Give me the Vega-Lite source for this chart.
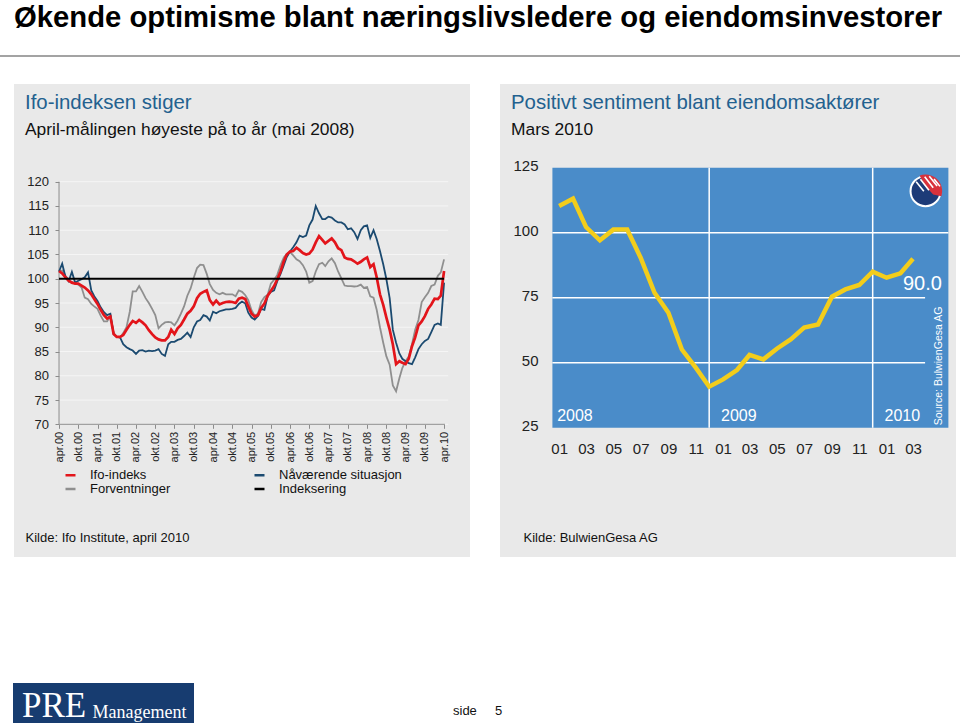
{
  "$schema": "https://vega.github.io/schema/vega-lite/v6.json",
  "padding": {"top": 3, "left": 0, "right": 0, "bottom": 2},
  "background": "white",
  "title": {"text": "Økende optimisme blant næringslivsledere og eiendomsinvestorer", "anchor": "start", "dx": 14, "fontSize": 29.25, "fontWeight": "bold", "font": "Liberation Sans", "color": "#000000", "offset": 22},
  "spacing": 0,
  "bounds": "full",
  "config": {"view": {"stroke": null}, "font": "Liberation Sans", "axis": {"labelOverlap": false}},
  "datasets": {
    "ifo": [
      {"d":"2000-04-01","Ifo-indeks":101.6,"Nåværende situasjon":101.5,"Forventninger":101.5},
      {"d":"2000-05-01","Ifo-indeks":101.1,"Nåværende situasjon":103.1,"Forventninger":101.7},
      {"d":"2000-06-01","Ifo-indeks":100.3,"Nåværende situasjon":100.4,"Forventninger":100.6},
      {"d":"2000-07-01","Ifo-indeks":99.6,"Nåværende situasjon":99.5,"Forventninger":99.8},
      {"d":"2000-08-01","Ifo-indeks":99.2,"Nåværende situasjon":101.4,"Forventninger":99.3},
      {"d":"2000-09-01","Ifo-indeks":99.0,"Nåværende situasjon":99.2,"Forventninger":99.0},
      {"d":"2000-10-01","Ifo-indeks":99.0,"Nåværende situasjon":99.6,"Forventninger":98.8},
      {"d":"2000-11-01","Ifo-indeks":98.6,"Nåværende situasjon":99.9,"Forventninger":98.2},
      {"d":"2000-12-01","Ifo-indeks":98.2,"Nåværende situasjon":100.3,"Forventninger":96.1},
      {"d":"2001-01-01","Ifo-indeks":97.6,"Nåværende situasjon":101.3,"Forventninger":95.8},
      {"d":"2001-02-01","Ifo-indeks":96.8,"Nåværende situasjon":97.6,"Forventninger":94.8},
      {"d":"2001-03-01","Ifo-indeks":95.8,"Nåværende situasjon":96.4,"Forventninger":94.3},
      {"d":"2001-04-01","Ifo-indeks":94.8,"Nåværende situasjon":95.4,"Forventninger":93.8},
      {"d":"2001-05-01","Ifo-indeks":93.6,"Nåværende situasjon":94.1,"Forventninger":92.4},
      {"d":"2001-06-01","Ifo-indeks":92.5,"Nåværende situasjon":93.1,"Forventninger":91.2},
      {"d":"2001-07-01","Ifo-indeks":91.8,"Nåværende situasjon":92.5,"Forventninger":91.2},
      {"d":"2001-08-01","Ifo-indeks":92.2,"Nåværende situasjon":92.8,"Forventninger":92.3},
      {"d":"2001-09-01","Ifo-indeks":88.6,"Nåværende situasjon":88.6,"Forventninger":88.8},
      {"d":"2001-10-01","Ifo-indeks":88.0,"Nåværende situasjon":88.0,"Forventninger":88.0},
      {"d":"2001-11-01","Ifo-indeks":88.0,"Nåværende situasjon":87.9,"Forventninger":87.9},
      {"d":"2001-12-01","Ifo-indeks":88.4,"Nåværende situasjon":86.5,"Forventninger":88.8},
      {"d":"2002-01-01","Ifo-indeks":89.5,"Nåværende situasjon":85.9,"Forventninger":90.0},
      {"d":"2002-02-01","Ifo-indeks":90.5,"Nåværende situasjon":85.5,"Forventninger":93.2},
      {"d":"2002-03-01","Ifo-indeks":91.3,"Nåværende situasjon":85.2,"Forventninger":97.4},
      {"d":"2002-04-01","Ifo-indeks":90.9,"Nåværende situasjon":84.5,"Forventninger":97.4},
      {"d":"2002-05-01","Ifo-indeks":91.5,"Nåværende situasjon":85.2,"Forventninger":98.5},
      {"d":"2002-06-01","Ifo-indeks":91.0,"Nåværende situasjon":85.3,"Forventninger":97.3},
      {"d":"2002-07-01","Ifo-indeks":90.4,"Nåværende situasjon":85.0,"Forventninger":96.0},
      {"d":"2002-08-01","Ifo-indeks":89.4,"Nåværende situasjon":85.2,"Forventninger":95.0},
      {"d":"2002-09-01","Ifo-indeks":88.6,"Nåværende situasjon":85.1,"Forventninger":93.8},
      {"d":"2002-10-01","Ifo-indeks":87.9,"Nåværende situasjon":85.2,"Forventninger":92.5},
      {"d":"2002-11-01","Ifo-indeks":87.5,"Nåværende situasjon":85.5,"Forventninger":89.8},
      {"d":"2002-12-01","Ifo-indeks":87.3,"Nåværende situasjon":84.5,"Forventninger":90.5},
      {"d":"2003-01-01","Ifo-indeks":87.3,"Nåværende situasjon":84.1,"Forventninger":91.0},
      {"d":"2003-02-01","Ifo-indeks":88.0,"Nåværende situasjon":86.5,"Forventninger":91.1},
      {"d":"2003-03-01","Ifo-indeks":89.5,"Nåværende situasjon":87.0,"Forventninger":91.0},
      {"d":"2003-04-01","Ifo-indeks":88.6,"Nåværende situasjon":87.0,"Forventninger":90.4},
      {"d":"2003-05-01","Ifo-indeks":89.8,"Nåværende situasjon":87.4,"Forventninger":91.4},
      {"d":"2003-06-01","Ifo-indeks":90.5,"Nåværende situasjon":87.6,"Forventninger":92.8},
      {"d":"2003-07-01","Ifo-indeks":91.6,"Nåværende situasjon":88.2,"Forventninger":94.3},
      {"d":"2003-08-01","Ifo-indeks":92.8,"Nåværende situasjon":88.9,"Forventninger":96.5},
      {"d":"2003-09-01","Ifo-indeks":93.4,"Nåværende situasjon":88.0,"Forventninger":98.0},
      {"d":"2003-10-01","Ifo-indeks":94.3,"Nåværende situasjon":90.0,"Forventninger":100.2},
      {"d":"2003-11-01","Ifo-indeks":96.0,"Nåværende situasjon":91.2,"Forventninger":102.2},
      {"d":"2003-12-01","Ifo-indeks":96.9,"Nåværende situasjon":91.5,"Forventninger":102.9},
      {"d":"2004-01-01","Ifo-indeks":97.3,"Nåværende situasjon":92.5,"Forventninger":102.8},
      {"d":"2004-02-01","Ifo-indeks":97.6,"Nåværende situasjon":92.2,"Forventninger":101.0},
      {"d":"2004-03-01","Ifo-indeks":95.6,"Nåværende situasjon":91.4,"Forventninger":98.9},
      {"d":"2004-04-01","Ifo-indeks":94.7,"Nåværende situasjon":93.2,"Forventninger":97.7},
      {"d":"2004-05-01","Ifo-indeks":95.5,"Nåværende situasjon":92.9,"Forventninger":97.1},
      {"d":"2004-06-01","Ifo-indeks":94.7,"Nåværende situasjon":93.3,"Forventninger":96.8},
      {"d":"2004-07-01","Ifo-indeks":95.0,"Nåværende situasjon":93.5,"Forventninger":97.1},
      {"d":"2004-08-01","Ifo-indeks":95.2,"Nåværende situasjon":93.7,"Forventninger":96.8},
      {"d":"2004-09-01","Ifo-indeks":95.3,"Nåværende situasjon":93.7,"Forventninger":96.8},
      {"d":"2004-10-01","Ifo-indeks":95.2,"Nåværende situasjon":93.8,"Forventninger":96.8},
      {"d":"2004-11-01","Ifo-indeks":95.0,"Nåværende situasjon":94.0,"Forventninger":96.4},
      {"d":"2004-12-01","Ifo-indeks":95.9,"Nåværende situasjon":94.8,"Forventninger":97.6},
      {"d":"2005-01-01","Ifo-indeks":96.1,"Nåværende situasjon":95.3,"Forventninger":97.3},
      {"d":"2005-02-01","Ifo-indeks":95.8,"Nåværende situasjon":94.9,"Forventninger":96.6},
      {"d":"2005-03-01","Ifo-indeks":94.3,"Nåværende situasjon":93.0,"Forventninger":95.6},
      {"d":"2005-04-01","Ifo-indeks":92.8,"Nåværende situasjon":92.0,"Forventninger":93.5},
      {"d":"2005-05-01","Ifo-indeks":92.2,"Nåværende situasjon":91.6,"Forventninger":92.4},
      {"d":"2005-06-01","Ifo-indeks":92.5,"Nåværende situasjon":92.3,"Forventninger":92.8},
      {"d":"2005-07-01","Ifo-indeks":94.0,"Nåværende situasjon":93.8,"Forventninger":95.2},
      {"d":"2005-08-01","Ifo-indeks":94.9,"Nåværende situasjon":93.6,"Forventninger":96.2},
      {"d":"2005-09-01","Ifo-indeks":96.5,"Nåværende situasjon":96.5,"Forventninger":96.7},
      {"d":"2005-10-01","Ifo-indeks":97.5,"Nåværende situasjon":97.3,"Forventninger":99.0},
      {"d":"2005-11-01","Ifo-indeks":98.5,"Nåværende situasjon":97.6,"Forventninger":99.8},
      {"d":"2005-12-01","Ifo-indeks":99.9,"Nåværende situasjon":99.5,"Forventninger":100.8},
      {"d":"2006-01-01","Ifo-indeks":101.5,"Nåværende situasjon":101.0,"Forventninger":102.8},
      {"d":"2006-02-01","Ifo-indeks":103.6,"Nåværende situasjon":102.8,"Forventninger":104.4},
      {"d":"2006-03-01","Ifo-indeks":105.0,"Nåværende situasjon":104.5,"Forventninger":105.1},
      {"d":"2006-04-01","Ifo-indeks":105.6,"Nåværende situasjon":105.6,"Forventninger":105.5},
      {"d":"2006-05-01","Ifo-indeks":105.7,"Nåværende situasjon":106.5,"Forventninger":104.8},
      {"d":"2006-06-01","Ifo-indeks":106.4,"Nåværende situasjon":107.5,"Forventninger":104.0},
      {"d":"2006-07-01","Ifo-indeks":105.9,"Nåværende situasjon":108.9,"Forventninger":103.6},
      {"d":"2006-08-01","Ifo-indeks":105.3,"Nåværende situasjon":108.6,"Forventninger":102.8},
      {"d":"2006-09-01","Ifo-indeks":105.0,"Nåværende situasjon":108.9,"Forventninger":101.5},
      {"d":"2006-10-01","Ifo-indeks":105.2,"Nåværende situasjon":111.0,"Forventninger":99.2},
      {"d":"2006-11-01","Ifo-indeks":106.0,"Nåværende situasjon":112.2,"Forventninger":99.5},
      {"d":"2006-12-01","Ifo-indeks":107.5,"Nåværende situasjon":115.0,"Forventninger":101.5},
      {"d":"2007-01-01","Ifo-indeks":108.8,"Nåværende situasjon":113.5,"Forventninger":103.0},
      {"d":"2007-02-01","Ifo-indeks":108.0,"Nåværende situasjon":112.3,"Forventninger":103.3},
      {"d":"2007-03-01","Ifo-indeks":107.3,"Nåværende situasjon":112.3,"Forventninger":102.6},
      {"d":"2007-04-01","Ifo-indeks":107.8,"Nåværende situasjon":112.8,"Forventninger":103.6},
      {"d":"2007-05-01","Ifo-indeks":108.3,"Nåværende situasjon":112.6,"Forventninger":104.2},
      {"d":"2007-06-01","Ifo-indeks":107.5,"Nåværende situasjon":112.0,"Forventninger":103.2},
      {"d":"2007-07-01","Ifo-indeks":106.3,"Nåværende situasjon":111.6,"Forventninger":101.5},
      {"d":"2007-08-01","Ifo-indeks":105.9,"Nåværende situasjon":111.6,"Forventninger":100.1},
      {"d":"2007-09-01","Ifo-indeks":104.4,"Nåværende situasjon":111.2,"Forventninger":98.6},
      {"d":"2007-10-01","Ifo-indeks":104.1,"Nåværende situasjon":110.2,"Forventninger":98.5},
      {"d":"2007-11-01","Ifo-indeks":104.0,"Nåværende situasjon":110.4,"Forventninger":98.5},
      {"d":"2007-12-01","Ifo-indeks":103.6,"Nåværende situasjon":109.6,"Forventninger":98.4},
      {"d":"2008-01-01","Ifo-indeks":103.1,"Nåværende situasjon":108.2,"Forventninger":98.5},
      {"d":"2008-02-01","Ifo-indeks":103.5,"Nåværende situasjon":110.0,"Forventninger":98.8},
      {"d":"2008-03-01","Ifo-indeks":104.0,"Nåværende situasjon":110.8,"Forventninger":98.1},
      {"d":"2008-04-01","Ifo-indeks":104.4,"Nåværende situasjon":111.0,"Forventninger":98.3},
      {"d":"2008-05-01","Ifo-indeks":102.4,"Nåværende situasjon":108.4,"Forventninger":96.4},
      {"d":"2008-06-01","Ifo-indeks":103.0,"Nåværende situasjon":110.0,"Forventninger":96.1},
      {"d":"2008-07-01","Ifo-indeks":100.3,"Nåværende situasjon":108.2,"Forventninger":93.6},
      {"d":"2008-08-01","Ifo-indeks":96.8,"Nåværende situasjon":105.7,"Forventninger":90.0},
      {"d":"2008-09-01","Ifo-indeks":94.6,"Nåværende situasjon":103.0,"Forventninger":86.8},
      {"d":"2008-10-01","Ifo-indeks":92.0,"Nåværende situasjon":99.9,"Forventninger":84.0},
      {"d":"2008-11-01","Ifo-indeks":89.5,"Nåværende situasjon":96.0,"Forventninger":82.3},
      {"d":"2008-12-01","Ifo-indeks":86.5,"Nåværende situasjon":89.5,"Forventninger":78.0},
      {"d":"2009-01-01","Ifo-indeks":82.4,"Nåværende situasjon":86.8,"Forventninger":76.8},
      {"d":"2009-02-01","Ifo-indeks":83.0,"Nåværende situasjon":84.6,"Forventninger":79.5},
      {"d":"2009-03-01","Ifo-indeks":82.7,"Nåværende situasjon":83.5,"Forventninger":81.6},
      {"d":"2009-04-01","Ifo-indeks":82.4,"Nåværende situasjon":83.0,"Forventninger":83.0},
      {"d":"2009-05-01","Ifo-indeks":83.5,"Nåværende situasjon":82.6,"Forventninger":84.0},
      {"d":"2009-06-01","Ifo-indeks":86.1,"Nåværende situasjon":82.4,"Forventninger":86.5},
      {"d":"2009-07-01","Ifo-indeks":87.9,"Nåværende situasjon":83.8,"Forventninger":89.5},
      {"d":"2009-08-01","Ifo-indeks":90.4,"Nåværende situasjon":85.5,"Forventninger":91.5},
      {"d":"2009-09-01","Ifo-indeks":91.2,"Nåværende situasjon":86.5,"Forventninger":95.2},
      {"d":"2009-10-01","Ifo-indeks":92.3,"Nåværende situasjon":87.2,"Forventninger":96.2},
      {"d":"2009-11-01","Ifo-indeks":93.8,"Nåværende situasjon":87.6,"Forventninger":97.1},
      {"d":"2009-12-01","Ifo-indeks":94.7,"Nåværende situasjon":89.0,"Forventninger":98.5},
      {"d":"2010-01-01","Ifo-indeks":95.9,"Nåværende situasjon":90.5,"Forventninger":98.8},
      {"d":"2010-02-01","Ifo-indeks":95.8,"Nåværende situasjon":90.8,"Forventninger":100.6},
      {"d":"2010-03-01","Ifo-indeks":96.5,"Nåværende situasjon":90.5,"Forventninger":101.3},
      {"d":"2010-04-01","Ifo-indeks":101.6,"Nåværende situasjon":99.2,"Forventninger":104.0}
    ],
    "idx": [
      {"d":"2000-04-01","series":"Indeksering","value":100},
      {"d":"2010-04-01","series":"Indeksering","value":100}
    ],
    "grid": [{"v":70},{"v":75},{"v":80},{"v":85},{"v":90},{"v":95},{"v":100},{"v":105},{"v":110},{"v":115},{"v":120}],
    "bw": [
      {"d":"2008-01-01","v":110.3},{"d":"2008-02-01","v":113.1},{"d":"2008-03-01","v":102.2},
      {"d":"2008-04-01","v":97.1},{"d":"2008-05-01","v":101.2},{"d":"2008-06-01","v":101.2},
      {"d":"2008-07-01","v":90.4},{"d":"2008-08-01","v":76.9},{"d":"2008-09-01","v":69.2},
      {"d":"2008-10-01","v":55.1},{"d":"2008-11-01","v":48.1},{"d":"2008-12-01","v":40.8},
      {"d":"2009-01-01","v":43.6},{"d":"2009-02-01","v":47.2},{"d":"2009-03-01","v":53.0},
      {"d":"2009-04-01","v":51.3},{"d":"2009-05-01","v":55.4},{"d":"2009-06-01","v":59.0},
      {"d":"2009-07-01","v":63.5},{"d":"2009-08-01","v":64.7},{"d":"2009-09-01","v":75.4},
      {"d":"2009-10-01","v":78.2},{"d":"2009-11-01","v":79.9},{"d":"2009-12-01","v":85.0},
      {"d":"2010-01-01","v":82.7},{"d":"2010-02-01","v":84.4},{"d":"2010-03-01","v":90.0}
    ],
    "bwh": [{"v":50},{"v":75}],
    "bwv": [{"d":"2008-12-01"},{"d":"2009-12-01"}],
    "years": [{"d":"2008-01-01","t":"2008"},{"d":"2009-01-01","t":"2009"},{"d":"2010-01-01","t":"2010"}]
  },
  "vconcat": [
    {"width": 960, "height": 2, "view": {"fill": "#a3a3a3", "stroke": null}, "data": {"values": []}, "mark": "point"},
    {"width": 1, "height": 27, "data": {"values": []}, "mark": "point"},
    {
      "spacing": 0,
      "bounds": "flush",
      "hconcat": [
        {"width": 14, "height": 1, "data": {"values": []}, "mark": "point"},
        {
          "width": 456,
          "height": 473,
          "view": {"fill": "#e9e9e9", "stroke": null},
          "title": {"text": "Ifo-indeksen stiger", "subtitle": "April-målingen høyeste på to år (mai 2008)", "anchor": "start", "frame": "group", "orient": "top", "offset": -54.35, "dx": 11, "fontSize": 20.4, "fontWeight": "normal", "color": "#23618f", "font": "Liberation Sans", "subtitleFont": "Liberation Sans", "subtitleFontSize": 17.4, "subtitleColor": "#111111", "subtitlePadding": 7.85},
          "layer": [
            {
              "data": {"name": "grid"},
              "mark": {"type": "rule", "stroke": "#f5f5f5", "strokeWidth": 1},
              "encoding": {
                "x": {"datum": {"year": 2000, "month": 4, "date": 1, "utc": true}, "type": "temporal",
                  "scale": {"type": "utc", "domain": [{"year": 1999, "month": 1, "date": 30, "utc": true}, {"year": 2010, "month": 12, "date": 3, "utc": true}], "nice": false},
                  "axis": {
                    "orient": "bottom", "offset": -132.7, "tickCount": 500,
                    "values": [
                      {"year": 2000, "month": 4, "date": 1, "utc": true}, {"year": 2000, "month": 10, "date": 1, "utc": true},
                      {"year": 2001, "month": 4, "date": 1, "utc": true}, {"year": 2001, "month": 10, "date": 1, "utc": true},
                      {"year": 2002, "month": 4, "date": 1, "utc": true}, {"year": 2002, "month": 10, "date": 1, "utc": true},
                      {"year": 2003, "month": 4, "date": 1, "utc": true}, {"year": 2003, "month": 10, "date": 1, "utc": true},
                      {"year": 2004, "month": 4, "date": 1, "utc": true}, {"year": 2004, "month": 10, "date": 1, "utc": true},
                      {"year": 2005, "month": 4, "date": 1, "utc": true}, {"year": 2005, "month": 10, "date": 1, "utc": true},
                      {"year": 2006, "month": 4, "date": 1, "utc": true}, {"year": 2006, "month": 10, "date": 1, "utc": true},
                      {"year": 2007, "month": 4, "date": 1, "utc": true}, {"year": 2007, "month": 10, "date": 1, "utc": true},
                      {"year": 2008, "month": 4, "date": 1, "utc": true}, {"year": 2008, "month": 10, "date": 1, "utc": true},
                      {"year": 2009, "month": 4, "date": 1, "utc": true}, {"year": 2009, "month": 10, "date": 1, "utc": true},
                      {"year": 2010, "month": 4, "date": 1, "utc": true}
                    ],
                    "labelExpr": "(utcFormat(datum.value, '%m') == '04' ? 'apr.' : 'okt.') + utcFormat(datum.value, '%y')",
                    "labelAngle": -90, "labelAlign": "right", "labelBaseline": "middle", "labelFontSize": 11, "labelColor": "#222222", "labelPadding": 3, "labelFlush": false, "labelOverlap": false, "labelBound": false,
                    "tickSize": 4, "tickColor": "#8c8c8c", "domain": false, "grid": false,
                    "title": "Kilde: Ifo Institute, april 2010", "titleX": 11, "titleY": 117, "titleAlign": "left", "titleAnchor": "start", "titleBaseline": "alphabetic", "titleFontSize": 13, "titleFontWeight": "normal", "titleColor": "#111111"
                  }},
                "x2": {"datum": {"year": 2010, "month": 5, "date": 10, "utc": true}},
                "y": {"field": "v", "type": "quantitative",
                  "scale": {"domain": [42.65, 140.14], "nice": false, "zero": false},
                  "axis": {
                    "orient": "left", "offset": -45, "format": "d", "values": [70, 75, 80, 85, 90, 95, 100, 105, 110, 115, 120],
                    "labelFontSize": 13, "labelColor": "#222222", "labelPadding": 6.5, "tickSize": 4, "tickColor": "#8c8c8c", "domain": false, "grid": false, "title": null, "labelBound": false, "labelFlush": false, "labelOverlap": false
                  }}
              }
            },
            {
              "data": {"values": [{}]},
              "mark": {"type": "rule", "stroke": "#8c8c8c", "strokeWidth": 1},
              "encoding": {
                "x": {"datum": {"year": 2000, "month": 4, "date": 1, "utc": true}, "type": "temporal"},
                "y": {"datum": 70, "type": "quantitative"},
                "y2": {"datum": 120}
              }
            },
            {
              "data": {"values": [{}]},
              "mark": {"type": "rule", "stroke": "#8c8c8c", "strokeWidth": 1},
              "encoding": {
                "x": {"datum": {"year": 2000, "month": 4, "date": 1, "utc": true}, "type": "temporal"},
                "x2": {"datum": {"year": 2010, "month": 4, "date": 10, "utc": true}},
                "y": {"datum": 70, "type": "quantitative"}
              }
            },
            {
              "data": {"name": "ifo"},
              "transform": [{"fold": ["Ifo-indeks", "Nåværende situasjon", "Forventninger"], "as": ["series", "value"]}, {"filter": "datum.series == 'Forventninger'"}],
              "mark": {"type": "line", "strokeWidth": 1.8},
              "encoding": {
                "x": {"field": "d", "type": "temporal"},
                "y": {"field": "value", "type": "quantitative"},
                "color": {"field": "series", "type": "nominal",
                  "scale": {"domain": ["Ifo-indeks", "Forventninger", "Nåværende situasjon", "Indeksering"], "range": ["#e3151b", "#8f8f8f", "#1b4a70", "#000000"]},
                  "legend": {"orient": "none", "legendX": 64, "legendY": 413.5, "columns": 2, "columnPadding": 78, "title": null, "symbolType": "stroke", "symbolStrokeWidth": 2.5, "symbolSize": 100, "labelFontSize": 13, "labelFont": "Liberation Sans", "labelColor": "#111111", "labelOffset": 13, "rowPadding": -1, "padding": 0}
                }
              }
            },
            {
              "data": {"name": "ifo"},
              "transform": [{"fold": ["Ifo-indeks", "Nåværende situasjon", "Forventninger"], "as": ["series", "value"]}, {"filter": "datum.series == 'Nåværende situasjon'"}],
              "mark": {"type": "line", "strokeWidth": 1.8},
              "encoding": {
                "x": {"field": "d", "type": "temporal"},
                "y": {"field": "value", "type": "quantitative"},
                "color": {"field": "series", "type": "nominal", "legend": null}
              }
            },
            {
              "data": {"name": "ifo"},
              "transform": [{"fold": ["Ifo-indeks", "Nåværende situasjon", "Forventninger"], "as": ["series", "value"]}, {"filter": "datum.series == 'Ifo-indeks'"}],
              "mark": {"type": "line", "strokeWidth": 2.7},
              "encoding": {
                "x": {"field": "d", "type": "temporal"},
                "y": {"field": "value", "type": "quantitative"},
                "color": {"field": "series", "type": "nominal", "legend": null}
              }
            },
            {
              "data": {"name": "idx"},
              "mark": {"type": "line", "strokeWidth": 2.2},
              "encoding": {
                "x": {"field": "d", "type": "temporal"},
                "y": {"field": "value", "type": "quantitative"},
                "color": {"field": "series", "type": "nominal", "legend": null}
              }
            }
          ]
        },
        {"width": 30, "height": 1, "data": {"values": []}, "mark": "point"},
        {
          "width": 456,
          "height": 473,
          "view": {"fill": "#e9e9e9", "stroke": null},
          "title": {"text": "Positivt sentiment blant eiendomsaktører", "subtitle": "Mars 2010", "anchor": "start", "frame": "group", "orient": "top", "offset": -54.35, "dx": 11, "fontSize": 20.4, "fontWeight": "normal", "color": "#23618f", "font": "Liberation Sans", "subtitleFont": "Liberation Sans", "subtitleFontSize": 17.4, "subtitleColor": "#111111", "subtitlePadding": 7.85},
          "layer": [
            {
              "data": {"values": [{}]},
              "mark": {"type": "rect", "fill": "#4a8cc9"},
              "encoding": {
                "x": {"datum": {"year": 2007, "month": 12, "date": 17, "utc": true}, "type": "temporal",
                  "scale": {"type": "utc", "domain": [{"year": 2007, "month": 8, "date": 22, "utc": true}, {"year": 2010, "month": 6, "date": 5, "utc": true}], "nice": false},
                  "axis": {
                    "orient": "bottom", "offset": -129.3, "tickCount": 500,
                    "values": [
                      {"year": 2008, "month": 1, "date": 1, "utc": true}, {"year": 2008, "month": 3, "date": 1, "utc": true},
                      {"year": 2008, "month": 5, "date": 1, "utc": true}, {"year": 2008, "month": 7, "date": 1, "utc": true},
                      {"year": 2008, "month": 9, "date": 1, "utc": true}, {"year": 2008, "month": 11, "date": 1, "utc": true},
                      {"year": 2009, "month": 1, "date": 1, "utc": true}, {"year": 2009, "month": 3, "date": 1, "utc": true},
                      {"year": 2009, "month": 5, "date": 1, "utc": true}, {"year": 2009, "month": 7, "date": 1, "utc": true},
                      {"year": 2009, "month": 9, "date": 1, "utc": true}, {"year": 2009, "month": 11, "date": 1, "utc": true},
                      {"year": 2010, "month": 1, "date": 1, "utc": true}, {"year": 2010, "month": 3, "date": 1, "utc": true}
                    ],
                    "labelExpr": "utcFormat(datum.value, '%m')",
                    "labelFontSize": 15, "labelColor": "#222222", "labelPadding": 14, "labelFlush": false, "labelOverlap": false, "labelBound": false,
                    "ticks": false, "tickSize": 0, "domain": false, "grid": false,
                    "title": "Kilde: BulwienGesa AG", "titleX": 23, "titleY": 113.3, "titleAlign": "left", "titleAnchor": "start", "titleBaseline": "alphabetic", "titleFontSize": 13, "titleFontWeight": "normal", "titleColor": "#111111"
                  }},
                "x2": {"datum": {"year": 2010, "month": 5, "date": 19, "utc": true}},
                "y": {"datum": 25, "type": "quantitative",
                  "scale": {"domain": [-24.7, 157.2], "nice": false, "zero": false},
                  "axis": {
                    "orient": "left", "offset": -42, "format": "d", "values": [25, 50, 75, 100, 125],
                    "labelFontSize": 15, "labelColor": "#222222", "labelPadding": 4, "labelOffset": -2, "ticks": false, "tickSize": 0, "domain": false, "grid": false, "title": null, "labelBound": false, "labelFlush": false, "labelOverlap": false
                  }},
                "y2": {"datum": 125}
              }
            },
            {
              "data": {"name": "bwh"},
              "mark": {"type": "rule", "stroke": "#ffffff", "strokeWidth": 1.5},
              "encoding": {
                "x": {"datum": {"year": 2007, "month": 12, "date": 17, "utc": true}, "type": "temporal"},
                "x2": {"datum": {"year": 2010, "month": 3, "date": 28, "utc": true}},
                "y": {"field": "v", "type": "quantitative"}
              }
            },
            {
              "data": {"values": [{}]},
              "mark": {"type": "rule", "stroke": "#ffffff", "strokeWidth": 1.5},
              "encoding": {
                "x": {"datum": {"year": 2007, "month": 12, "date": 17, "utc": true}, "type": "temporal"},
                "x2": {"datum": {"year": 2010, "month": 5, "date": 19, "utc": true}},
                "y": {"datum": 100, "type": "quantitative"}
              }
            },
            {
              "data": {"name": "bwv"},
              "mark": {"type": "rule", "stroke": "#ffffff", "strokeWidth": 1.5},
              "encoding": {
                "x": {"field": "d", "type": "temporal"},
                "y": {"datum": 25, "type": "quantitative"},
                "y2": {"datum": 125}
              }
            },
            {
              "data": {"name": "bw"},
              "mark": {"type": "line", "stroke": "#f3cd1b", "strokeWidth": 4.5},
              "encoding": {
                "x": {"field": "d", "type": "temporal"},
                "y": {"field": "v", "type": "quantitative"}
              }
            },
            {
              "data": {"name": "years"},
              "mark": {"type": "text", "color": "#ffffff", "fontSize": 16, "align": "left", "baseline": "alphabetic", "dx": -2, "dy": -6.5},
              "encoding": {
                "x": {"field": "d", "type": "temporal"},
                "y": {"datum": 25, "type": "quantitative"},
                "text": {"field": "t", "type": "nominal"}
              }
            },
            {
              "data": {"name": "bw"},
              "transform": [{"filter": "datum.v == 90"}],
              "mark": {"type": "text", "color": "#ffffff", "fontSize": 20, "align": "left", "baseline": "middle", "dx": -10, "dy": 25},
              "encoding": {
                "x": {"field": "d", "type": "temporal"},
                "y": {"field": "v", "type": "quantitative"},
                "text": {"field": "v", "type": "quantitative", "format": ".1f"}
              }
            },
            {
              "data": {"values": [{"t": "Source: BulwienGesa AG"}]},
              "mark": {"type": "text", "color": "#ffffff", "fontSize": 10.5, "align": "left", "baseline": "middle", "angle": 270},
              "encoding": {
                "x": {"datum": {"year": 2010, "month": 4, "date": 28, "utc": true}, "type": "temporal"},
                "y": {"datum": 26, "type": "quantitative"},
                "text": {"field": "t", "type": "nominal"}
              }
            },
            {
              "data": {"values": [{}]},
              "mark": {"type": "point", "shape": "circle", "filled": true, "fill": "#1d3b78", "stroke": "#ffffff", "strokeWidth": 2, "size": 900, "opacity": 1},
              "encoding": {
                "x": {"datum": {"year": 2010, "month": 3, "date": 29, "utc": true}, "type": "temporal"},
                "y": {"datum": 116, "type": "quantitative"}
              }
            },
            {
              "data": {"values": [{}]},
              "mark": {"type": "point", "shape": "M -0.35 -0.92 A 0.98 0.98 0 0 1 0.93 0.3 L 0.45 0.2 L -0.05 -0.35 Z", "filled": true, "fill": "#d8323c", "strokeWidth": 0, "size": 1156, "opacity": 1},
              "encoding": {
                "x": {"datum": {"year": 2010, "month": 3, "date": 29, "utc": true}, "type": "temporal"},
                "y": {"datum": 116, "type": "quantitative"}
              }
            },
            {
              "data": {"values": [{}]},
              "mark": {"type": "point", "shape": "M -0.3 -0.7 L 0.2 -0.05 M -0.05 -0.85 L 0.45 -0.2 M 0.22 -0.88 L 0.68 -0.3 M 0.5 -0.72 L 0.85 -0.28 M -0.55 -0.55 L -0.1 0.0", "filled": false, "stroke": "#ffffff", "strokeWidth": 1.6, "size": 1156, "opacity": 1},
              "encoding": {
                "x": {"datum": {"year": 2010, "month": 3, "date": 29, "utc": true}, "type": "temporal"},
                "y": {"datum": 116, "type": "quantitative"}
              }
            }
          ]
        }
      ]
    },
    {"width": 1, "height": 126, "data": {"values": []}, "mark": "point"},
    {
      "spacing": 0,
      "bounds": "flush",
      "hconcat": [
        {"width": 13, "height": 1, "data": {"values": []}, "mark": "point"},
        {
          "width": 181,
          "height": 40,
          "view": {"fill": "#173c70", "stroke": null},
          "title": {"text": "PRE", "font": "Liberation Serif", "fontSize": 35, "fontWeight": "normal", "color": "#ffffff", "anchor": "start", "frame": "group", "orient": "top", "offset": -41.3, "dx": 9},
          "data": {"values": []},
          "mark": "point",
          "encoding": {
            "x": {"field": "a", "type": "quantitative", "scale": {"domain": [0, 1]}, "axis": {"title": "Management", "titleFont": "Liberation Serif", "titleFontSize": 18, "titleFontWeight": "normal", "titleColor": "#ffffff", "titleX": 79, "titleY": -6, "titleAlign": "left", "titleAnchor": "start", "titleBaseline": "alphabetic", "labels": false, "ticks": false, "domain": false, "grid": false}}
          }
        },
        {"width": 259, "height": 1, "data": {"values": []}, "mark": "point"},
        {
          "width": 60,
          "height": 40,
          "title": {"text": "side\u00a0\u00a0\u00a0\u00a0\u00a05", "font": "Liberation Sans", "fontSize": 13, "fontWeight": "normal", "color": "#111111", "anchor": "start", "frame": "group", "orient": "top", "offset": -34.7},
          "data": {"values": []},
          "mark": "point"
        }
      ]
    }
  ]
}
